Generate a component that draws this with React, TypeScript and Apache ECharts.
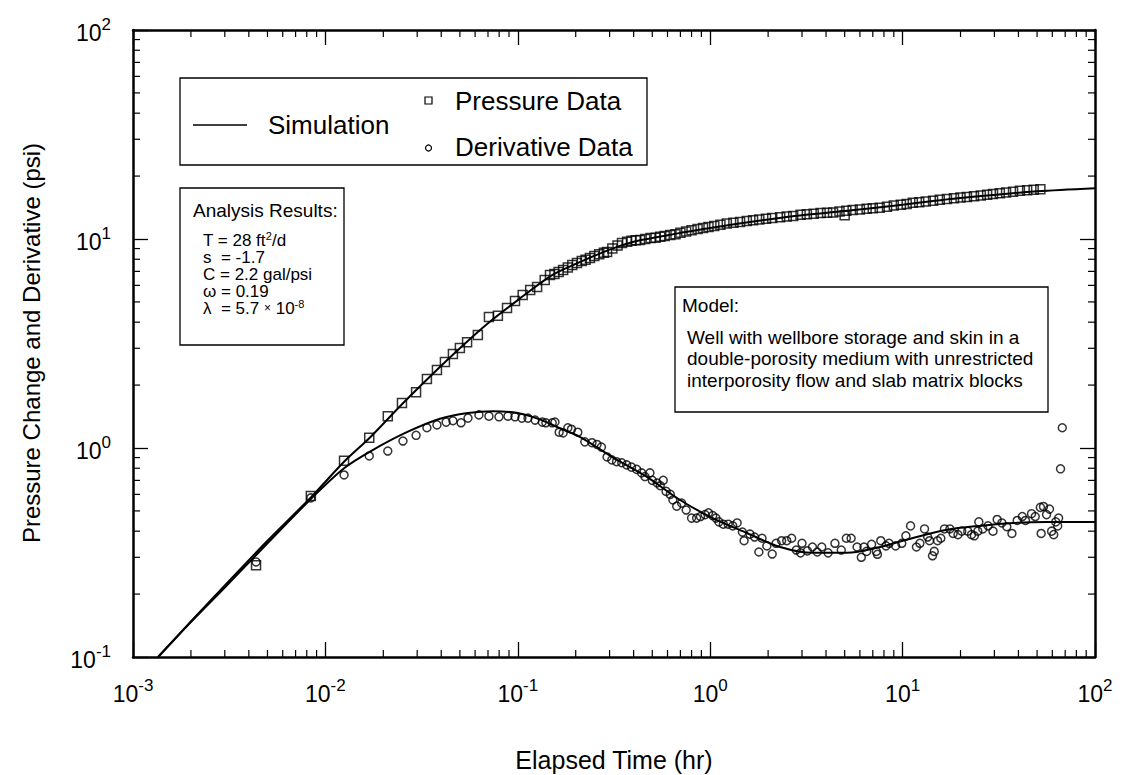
import React, { useEffect, useRef } from "react";
import * as echarts from "echarts";

const FONT = "'Liberation Sans', Arial, Helvetica, sans-serif";

// Simulation (model) curves
const simPressureX = [0.00135, 0.002, 0.003, 0.005, 0.0084, 0.0125, 0.017, 0.025, 0.035, 0.05, 0.07, 0.1, 0.15, 0.2, 0.3, 0.4, 0.5, 0.7, 1, 2, 3, 5, 10, 20, 50, 100];
const simPressureY = [0.1, 0.148, 0.22, 0.36, 0.58, 0.86, 1.12, 1.62, 2.2, 3.0, 3.95, 5.1, 6.7, 7.6, 8.9, 9.7, 10.1, 10.7, 11.3, 12.4, 13.0, 13.6, 14.6, 15.7, 16.9, 17.5];

const simDerivX = [0.00135, 0.002, 0.003, 0.005, 0.0084, 0.0125, 0.0177, 0.0265, 0.0394, 0.055, 0.0743, 0.1, 0.13, 0.16, 0.21, 0.313, 0.469, 0.697, 1.03, 1.55, 2.31, 3.42, 5.14, 7.64, 11.3, 17, 25, 37.5, 56, 100];
const simDerivY = [0.1, 0.147, 0.215, 0.35, 0.57, 0.8, 0.98, 1.19, 1.38, 1.47, 1.5, 1.47, 1.37, 1.26, 1.13, 0.9, 0.727, 0.564, 0.462, 0.392, 0.336, 0.315, 0.315, 0.336, 0.371, 0.406, 0.424, 0.438, 0.443, 0.443];

// Pressure data
const pressureX = [0.00436, 0.0084, 0.0125, 0.0169, 0.0211, 0.025, 0.0296, 0.0337, 0.038, 0.0418, 0.046, 0.05, 0.0545, 0.062, 0.0708, 0.0788, 0.0879, 0.0967, 0.106, 0.116, 0.126, 0.138, 0.147, 0.155, 0.163, 0.172, 0.182, 0.192, 0.203, 0.215, 0.225, 0.237, 0.25, 0.265, 0.28, 0.291, 0.31, 0.33, 0.348, 0.37, 0.39, 0.41, 0.432, 0.46, 0.49, 0.52, 0.55, 0.58, 0.62, 0.66, 0.7, 0.75, 0.8, 0.86, 0.918, 0.98, 1.05, 1.13, 1.22, 1.32, 1.43, 1.55, 1.67, 1.8, 1.95, 2.1, 2.31, 2.5, 2.7, 2.95, 3.18, 3.45, 3.75, 4.05, 4.35, 4.7, 5.0, 5.1, 5.5, 6.0, 6.5, 7.0, 7.6, 8.3, 9.0, 9.8, 10.5, 11.3, 12.2, 13.2, 14.4, 15.6, 17.0, 18.5, 20.0, 21.6, 23.5, 25.5, 27.5, 29.5, 32.0, 34.5, 37.5, 40.7, 44.4, 48.0, 52.0];
const pressureY = [0.275, 0.59, 0.87, 1.12, 1.42, 1.64, 1.85, 2.14, 2.36, 2.58, 2.82, 3.01, 3.21, 3.47, 4.24, 4.29, 4.68, 5.05, 5.4, 5.7, 5.89, 6.36, 6.73, 6.8, 6.95, 7.11, 7.3, 7.5, 7.68, 7.85, 7.95, 8.11, 8.3, 8.45, 8.6, 8.66, 9.0, 9.3, 9.57, 9.7, 9.8, 9.85, 9.89, 10.0, 10.1, 10.15, 10.25, 10.35, 10.45, 10.55, 10.7, 10.85, 11.0, 11.15, 11.3, 11.4, 11.55, 11.7, 11.85, 11.95, 12.05, 12.2, 12.3, 12.4, 12.5, 12.6, 12.7, 12.8, 12.9, 13.05, 13.15, 13.2, 13.3, 13.35, 13.4, 13.55, 13.0, 13.65, 13.75, 13.85, 13.95, 14.05, 14.1, 14.25, 14.45, 14.6, 14.7, 14.9, 15.0, 15.1, 15.25, 15.4, 15.55, 15.65, 15.8, 15.9, 16.0, 16.15, 16.3, 16.4, 16.55, 16.7, 16.85, 17.0, 17.1, 17.2, 17.3];

// Derivative data
const derivX = [0.00436, 0.0084, 0.0125, 0.0169, 0.0211, 0.0253, 0.0296, 0.0337, 0.038, 0.0424, 0.046, 0.0507, 0.0551, 0.0628, 0.0708, 0.0798, 0.0889, 0.0967, 0.105, 0.113, 0.123, 0.134, 0.14, 0.151, 0.156, 0.164, 0.172, 0.182, 0.19, 0.205, 0.223, 0.243, 0.258, 0.272, 0.291, 0.308, 0.326, 0.347, 0.368, 0.39, 0.415, 0.44, 0.458, 0.486, 0.5, 0.53, 0.55, 0.57, 0.59, 0.62, 0.64, 0.67, 0.71, 0.75, 0.8, 0.85, 0.89, 0.94, 0.98, 1.03, 1.07, 1.11, 1.17, 1.24, 1.31, 1.38, 1.47, 1.5, 1.61, 1.7, 1.79, 1.86, 1.97, 2.1, 2.2, 2.35, 2.5, 2.65, 2.8, 2.95, 3.0, 3.2, 3.4, 3.6, 3.8, 4.1, 4.45, 4.8, 5.1, 5.4, 5.8, 6.1, 6.3, 6.5, 6.9, 7.3, 7.4, 7.7, 8.2, 8.5, 9.2, 9.9, 10.4, 11.0, 11.8, 12.3, 13.0, 13.5, 13.8, 14.3, 14.6, 15.2, 15.8, 16.5, 17.6, 18.3, 19.4, 20.3, 21.8, 22.8, 23.6, 24.6, 24.9, 26.1, 27.8, 29.5, 31.0, 32.8, 34.8, 37.0, 39.4, 41.9, 43.5, 46.8, 48.9, 52.0, 52.5, 54.0, 56.0, 58.0, 59.5, 61.0, 62.5, 64.0, 64.7, 66.2, 67.6];
const derivY = [0.285, 0.577, 0.743, 0.916, 0.967, 1.08, 1.15, 1.25, 1.29, 1.33, 1.35, 1.32, 1.39, 1.44, 1.42, 1.41, 1.42, 1.41, 1.39, 1.39, 1.36, 1.33, 1.32, 1.32, 1.33, 1.19, 1.18, 1.25, 1.23, 1.19, 1.07, 1.06, 1.04, 1.01, 0.906, 0.877, 0.86, 0.85, 0.83, 0.81, 0.79, 0.76, 0.73, 0.76, 0.7, 0.68, 0.66, 0.7, 0.62, 0.6, 0.564, 0.527, 0.545, 0.505, 0.462, 0.462, 0.47, 0.48, 0.49, 0.475, 0.462, 0.443, 0.432, 0.432, 0.424, 0.438, 0.396, 0.36, 0.387, 0.375, 0.318, 0.37, 0.34, 0.311, 0.35, 0.36, 0.36, 0.37, 0.325, 0.315, 0.35, 0.322, 0.336, 0.318, 0.336, 0.315, 0.35, 0.325, 0.37, 0.37, 0.336, 0.3, 0.336, 0.32, 0.346, 0.32, 0.31, 0.36, 0.34, 0.35, 0.34, 0.35, 0.38, 0.424, 0.336, 0.35, 0.41, 0.375, 0.36, 0.305, 0.32, 0.36, 0.37, 0.41, 0.41, 0.39, 0.385, 0.4, 0.4, 0.385, 0.38, 0.4, 0.443, 0.41, 0.424, 0.4, 0.455, 0.438, 0.42, 0.39, 0.45, 0.47, 0.45, 0.485, 0.47, 0.52, 0.39, 0.525, 0.48, 0.51, 0.4, 0.385, 0.443, 0.424, 0.462, 0.795, 1.25];

// Axis ranges (decades)
const xDecades = [-3, -2, -1, 0, 1, 2];
const yDecades = [-1, 0, 1, 2];
const minorMultipliers = [2, 3, 4, 5, 6, 7, 8, 9];

// Text content
const analysisLines = [
  "{n|T = 28 ft}{u|2}{n|/d}",
  "{n|s  = -1.7}",
  "{n|C = 2.2 gal/psi}",
  "{n|\u03c9 = 0.19}",
  "{n|\u03bb  = 5.7 }{x|\u00d7}{n| 10}{u|-8}",
];
const modelLines = [
  "Well with wellbore storage and skin in a",
  "double-porosity medium with unrestricted",
  "interporosity flow and slab matrix blocks",
];

const zip = (xs: number[], ys: number[]) => xs.map((x, i) => [x, ys[i]]);

const xMinor: number[][] = [];
for (let i = 0; i < xDecades.length - 1; i++) for (const m of minorMultipliers) xMinor.push([m * Math.pow(10, xDecades[i]), 1]);
const yMinor: number[][] = [];
for (let i = 0; i < yDecades.length - 1; i++) for (const m of minorMultipliers) yMinor.push([1, m * Math.pow(10, yDecades[i])]);

const powLabel = (v: number) => {
  const e = Math.round(Math.log10(v));
  return "{b|10}{s|" + e + "}";
};

const labelRich = {
  b: { fontSize: 23, fontFamily: FONT, color: "#000", verticalAlign: "bottom" },
  s: { fontSize: 17, fontFamily: FONT, color: "#000", verticalAlign: "bottom", padding: [0, 0, 11, 0] },
};

export default function App() {
  const ref = useRef<HTMLDivElement>(null);
  useEffect(() => {
    if (!ref.current) return;
    const chart = echarts.init(ref.current, null, { renderer: "svg" });
    const axisLine = { show: true, onZero: false, lineStyle: { color: "#000", width: 2.5 } };
    const majorTick = { show: true, inside: true, length: 15, lineStyle: { color: "#000", width: 1.3 } };
    const minorRender = (isX: boolean) => (params: any, api: any) => {
      const cs = params.coordSys;
      const L = 7;
      const style = { stroke: "#000", lineWidth: 1.2 };
      if (isX) {
        const px = api.coord([api.value(0), api.value(1)])[0];
        return {
          type: "group",
          children: [
            { type: "line", shape: { x1: px, y1: cs.y + cs.height, x2: px, y2: cs.y + cs.height - L }, style },
            { type: "line", shape: { x1: px, y1: cs.y, x2: px, y2: cs.y + L }, style },
          ],
        };
      }
      const py = api.coord([api.value(0), api.value(1)])[1];
      return {
        type: "group",
        children: [
          { type: "line", shape: { x1: cs.x, y1: py, x2: cs.x + L, y2: py }, style },
          { type: "line", shape: { x1: cs.x + cs.width, y1: py, x2: cs.x + cs.width - L, y2: py }, style },
        ],
      };
    };
    const textStyle = (size: number) => ({ fontFamily: FONT, fontSize: size, fill: "#000" });
    const n17 = { fontFamily: FONT, fontSize: 17, fill: "#000" };
    const sup11 = { fontFamily: FONT, fontSize: 11, fill: "#000", verticalAlign: "bottom", padding: [0, 0, 8, 0] };
    const times = { fontFamily: FONT, fontSize: 12, fill: "#000" };
    const analysisTexts = analysisLines.map((t, i) => ({
      type: "text", x: 203, y: 240 + i * 17, z: 11,
      style: { text: t, verticalAlign: "middle", rich: { n: n17, u: sup11, x: times } },
    }));
    const modelTexts = modelLines.map((t, i) => ({
      type: "text", x: 687, y: 337 + i * 21.5, z: 11,
      style: { ...textStyle(19), text: t, verticalAlign: "middle" },
    }));
    const option: any = {
      animation: false,
      backgroundColor: "#fff",
      grid: { left: 133, right: 32, top: 30, bottom: 118, containLabel: false },
      xAxis: [
        {
          type: "log", logBase: 10, min: 0.001, max: 100, splitNumber: 5, position: "bottom",
          axisLine, axisTick: majorTick, splitLine: { show: false }, minorTick: { show: false },
          axisLabel: { margin: 20, formatter: powLabel, rich: labelRich },
        },
        {
          type: "log", logBase: 10, min: 0.001, max: 100, splitNumber: 5, position: "top",
          axisLine, axisTick: majorTick, splitLine: { show: false }, axisLabel: { show: false },
        },
      ],
      yAxis: [
        {
          type: "log", logBase: 10, min: 0.1, max: 100, splitNumber: 3, position: "left",
          axisLine, axisTick: majorTick, splitLine: { show: false },
          axisLabel: { margin: 22, formatter: powLabel, rich: labelRich },
        },
        {
          type: "log", logBase: 10, min: 0.1, max: 100, splitNumber: 3, position: "right",
          axisLine, axisTick: majorTick, splitLine: { show: false }, axisLabel: { show: false },
        },
      ],
      series: [
        {
          type: "line", data: zip(simPressureX, simPressureY), showSymbol: false, smooth: 0.3,
          lineStyle: { color: "#000", width: 2 }, silent: true, z: 3,
        },
        {
          type: "line", data: zip(simDerivX, simDerivY), showSymbol: false, smooth: 0.3,
          lineStyle: { color: "#000", width: 2 }, silent: true, z: 3,
        },
        {
          type: "scatter", data: zip(pressureX, pressureY), symbol: "rect", symbolSize: 9,
          itemStyle: { color: "rgba(0,0,0,0)", borderColor: "#000", borderWidth: 1.5 }, z: 4,
        },
        {
          type: "scatter", data: zip(derivX, derivY), symbol: "circle", symbolSize: 8,
          itemStyle: { color: "rgba(0,0,0,0)", borderColor: "#000", borderWidth: 1.5 }, z: 4,
        },
        { type: "custom", data: xMinor, renderItem: minorRender(true), silent: true, clip: false, z: 5 },
        { type: "custom", data: yMinor, renderItem: minorRender(false), silent: true, clip: false, z: 5 },
      ],
      graphic: [
        // Legend box
        { type: "rect", shape: { x: 180, y: 78, width: 467, height: 87 }, style: { fill: "#fff", stroke: "#000", lineWidth: 1.3 }, z: 10 },
        { type: "line", shape: { x1: 193, y1: 125, x2: 247, y2: 125 }, style: { stroke: "#000", lineWidth: 1.6 }, z: 11 },
        { type: "text", x: 268, y: 125, style: { ...textStyle(26), text: "Simulation", verticalAlign: "middle" }, z: 11 },
        { type: "rect", shape: { x: 425, y: 97, width: 7, height: 7 }, style: { fill: "none", stroke: "#000", lineWidth: 1.2 }, z: 11 },
        { type: "text", x: 455, y: 101, style: { ...textStyle(26), text: "Pressure Data", verticalAlign: "middle" }, z: 11 },
        { type: "circle", shape: { cx: 428.5, cy: 148, r: 3 }, style: { fill: "none", stroke: "#000", lineWidth: 1.2 }, z: 11 },
        { type: "text", x: 455, y: 147, style: { ...textStyle(26), text: "Derivative Data", verticalAlign: "middle" }, z: 11 },
        // Analysis results box
        { type: "rect", shape: { x: 180, y: 188, width: 164, height: 157 }, style: { fill: "#fff", stroke: "#000", lineWidth: 1.3 }, z: 10 },
        { type: "text", x: 193, y: 210, style: { ...textStyle(19), text: "Analysis Results:", verticalAlign: "middle" }, z: 11 },
        ...analysisTexts,
        // Model box
        { type: "rect", shape: { x: 675, y: 287, width: 373, height: 125 }, style: { fill: "#fff", stroke: "#000", lineWidth: 1.3 }, z: 10 },
        { type: "text", x: 682, y: 305, style: { ...textStyle(19), text: "Model:", verticalAlign: "middle" }, z: 11 },
        ...modelTexts,
        // Axis titles
        { type: "text", x: 614, y: 760, style: { ...textStyle(25), text: "Elapsed Time (hr)", align: "center", verticalAlign: "middle" }, z: 11 },
        { type: "text", x: 31, y: 343, rotation: Math.PI / 2, style: { ...textStyle(24), text: "Pressure Change and Derivative (psi)", align: "center", verticalAlign: "middle" }, z: 11 },
      ],
    };
    chart.setOption(option);
    return () => chart.dispose();
  }, []);
  return <div ref={ref} style={{ position: "fixed", left: 0, top: 0, width: 1127, height: 775, background: "#fff" }} />;
}
